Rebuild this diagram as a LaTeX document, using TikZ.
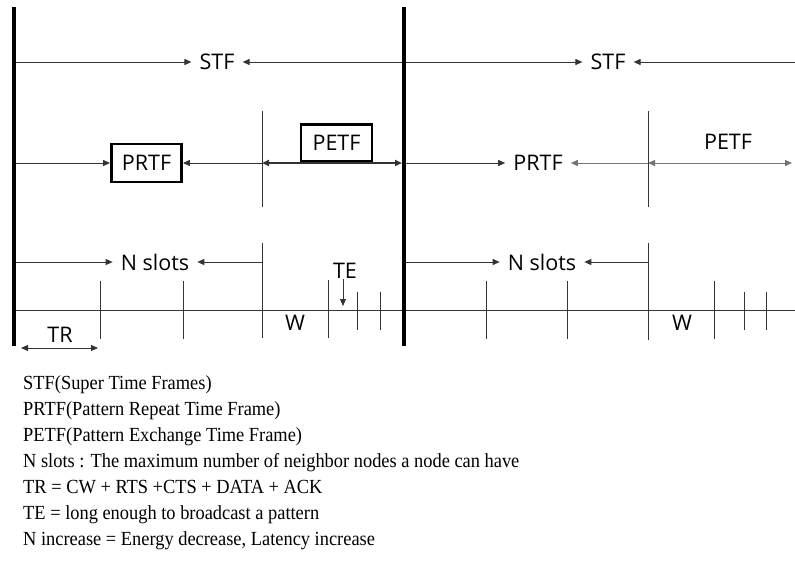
\documentclass[tikz,border=0pt]{standalone}
\usepackage{fontspec}
\setmainfont{Liberation Serif}
\newfontfamily\labfont{Open Sans}
\newfontfamily\legfont[FakeStretch=0.92]{Liberation Serif}
\usetikzlibrary{arrows.meta}
\begin{document}
\begin{tikzpicture}[x=1pt,y=-1pt,
  framebar/.style={line width=4pt, black},
  thinline/.style={line width=1pt, black!80},
  tip/.tip={Triangle[length=7pt,width=6pt]},
  arr/.style={thinline, -tip},
  darr/.style={thinline, tip-tip},
  lab/.style={font=\labfont\fontsize{21.5}{24}\selectfont, inner xsep=8pt, inner ysep=2pt},
  framebox/.style={font=\labfont\fontsize{21.5}{24}\selectfont, draw, line width=2.8pt,
    minimum width=70pt, minimum height=38pt, inner sep=0pt},
  legend/.style={font=\legfont\fontsize{20}{24}\selectfont, anchor=base west, inner sep=0pt}]
\useasboundingbox (0,0) rectangle (795,562);

% super frame boundaries
\coordinate (A0) at (14,7);   \coordinate (A1) at (14,346);
\coordinate (B0) at (404,7);  \coordinate (B1) at (404,346);
\coordinate (E)  at (795,0);

% time axis
\coordinate (T0) at (14,310); \coordinate (T1) at (795,310);
\draw[thinline] (T0) -- (T1);

% ---- STF row
\node[lab] (stf1) at (217,62) {STF};
\draw[arr] (A0 |- stf1) -- (stf1.west);
\draw[arr] (B0 |- stf1) -- (stf1.east);
\node[lab] (stf2) at (608,62) {STF};
\draw[arr] (B0 |- stf2) -- (stf2.west);
\draw[arr] (E |- stf2) -- (stf2.east);

% ---- PRTF / PETF row
\coordinate (p1a) at (262,111); \coordinate (p1b) at (262,207);
\draw[thinline] (p1a) -- (p1b);
\node[framebox] (prtf1) at (146.5,163) {PRTF};
\draw[arr] (A0 |- prtf1) -- (prtf1.west);
\draw[arr] (p1a |- prtf1) -- (prtf1.east);
\node[framebox, anchor=south, minimum width=71pt, minimum height=37pt] (petf1) at (336.5,163) {PETF};
\draw[darr, line width=2pt, shorten >=2pt] (p1a |- petf1.south) -- (B0 |- petf1.south);

\coordinate (q1a) at (648,111); \coordinate (q1b) at (648,207);
\draw[thinline] (q1a) -- (q1b);
\node[lab] (prtf2) at (538,163) {PRTF};
\draw[arr] (B0 |- prtf2) -- (prtf2.west);
\draw[arr, black!55] (q1a |- prtf2) -- (prtf2.east);
\node[lab] (petf2) at (728,142) {PETF};
\draw[darr, black!55] (q1a |- prtf2) -- ([xshift=-3pt]E |- prtf2);

% ---- N slots row
\coordinate (n1a) at (262,243); \coordinate (n1b) at (262,338);
\draw[thinline] (n1a) -- (n1b);
\node[lab] (ns1) at (155,262) {N slots};
\draw[arr] (A0 |- ns1) -- (ns1.west);
\draw[arr] (n1a |- ns1) -- (ns1.east);

\coordinate (m1a) at (648,243); \coordinate (m1b) at (648,340);
\draw[thinline] (m1a) -- (m1b);
\node[lab] (ns2) at (542,262) {N slots};
\draw[arr] (B0 |- ns2) -- (ns2.west);
\draw[arr] (m1a |- ns2) -- (ns2.east);

% ---- slot ticks
\foreach \x in {100,183,486,567,714}
  \draw[thinline] (\x,281) -- (\x,339);
\draw[thinline] (328,280) -- (328,338);
\foreach \x in {357,380,744,766}
  \draw[thinline] (\x,292) -- (\x,330);

% W, TE and TR marks
\node[lab] (w1) at (295,323) {W};
\node[lab] (w2) at (682,323) {W};
\node[lab] (te) at (345,271) {TE};
\coordinate (teA) at (343,279); \coordinate (teB) at (343,306);
\draw[arr] (teA) -- (teB);
\node[lab] (tr) at (60,335) {TR};
\coordinate (trA) at (21,348); \coordinate (trB) at (98,348);
\draw[darr] (trA) -- (trB);

% frame bars on top
\draw[framebar] (A0) -- (A1);
\draw[framebar] (B0) -- (B1);

% ---- legend
\node[legend] (g1) at (23,389) {STF(Super Time Frames)};
\node[legend] (g2) at (23,415) {PRTF(Pattern Repeat Time Frame)};
\node[legend] (g3) at (23,441) {PETF(Pattern Exchange Time Frame)};
\node[legend] (g4) at (23,467) {N slots : The maximum number of neighbor nodes a node can have};
\node[legend] (g5) at (23,493) {TR = CW + RTS +CTS + DATA + ACK};
\node[legend] (g6) at (23,519) {TE = long enough to broadcast a pattern};
\node[legend] (g7) at (23,545) {N increase = Energy decrease, Latency increase};
\end{tikzpicture}
\end{document}
